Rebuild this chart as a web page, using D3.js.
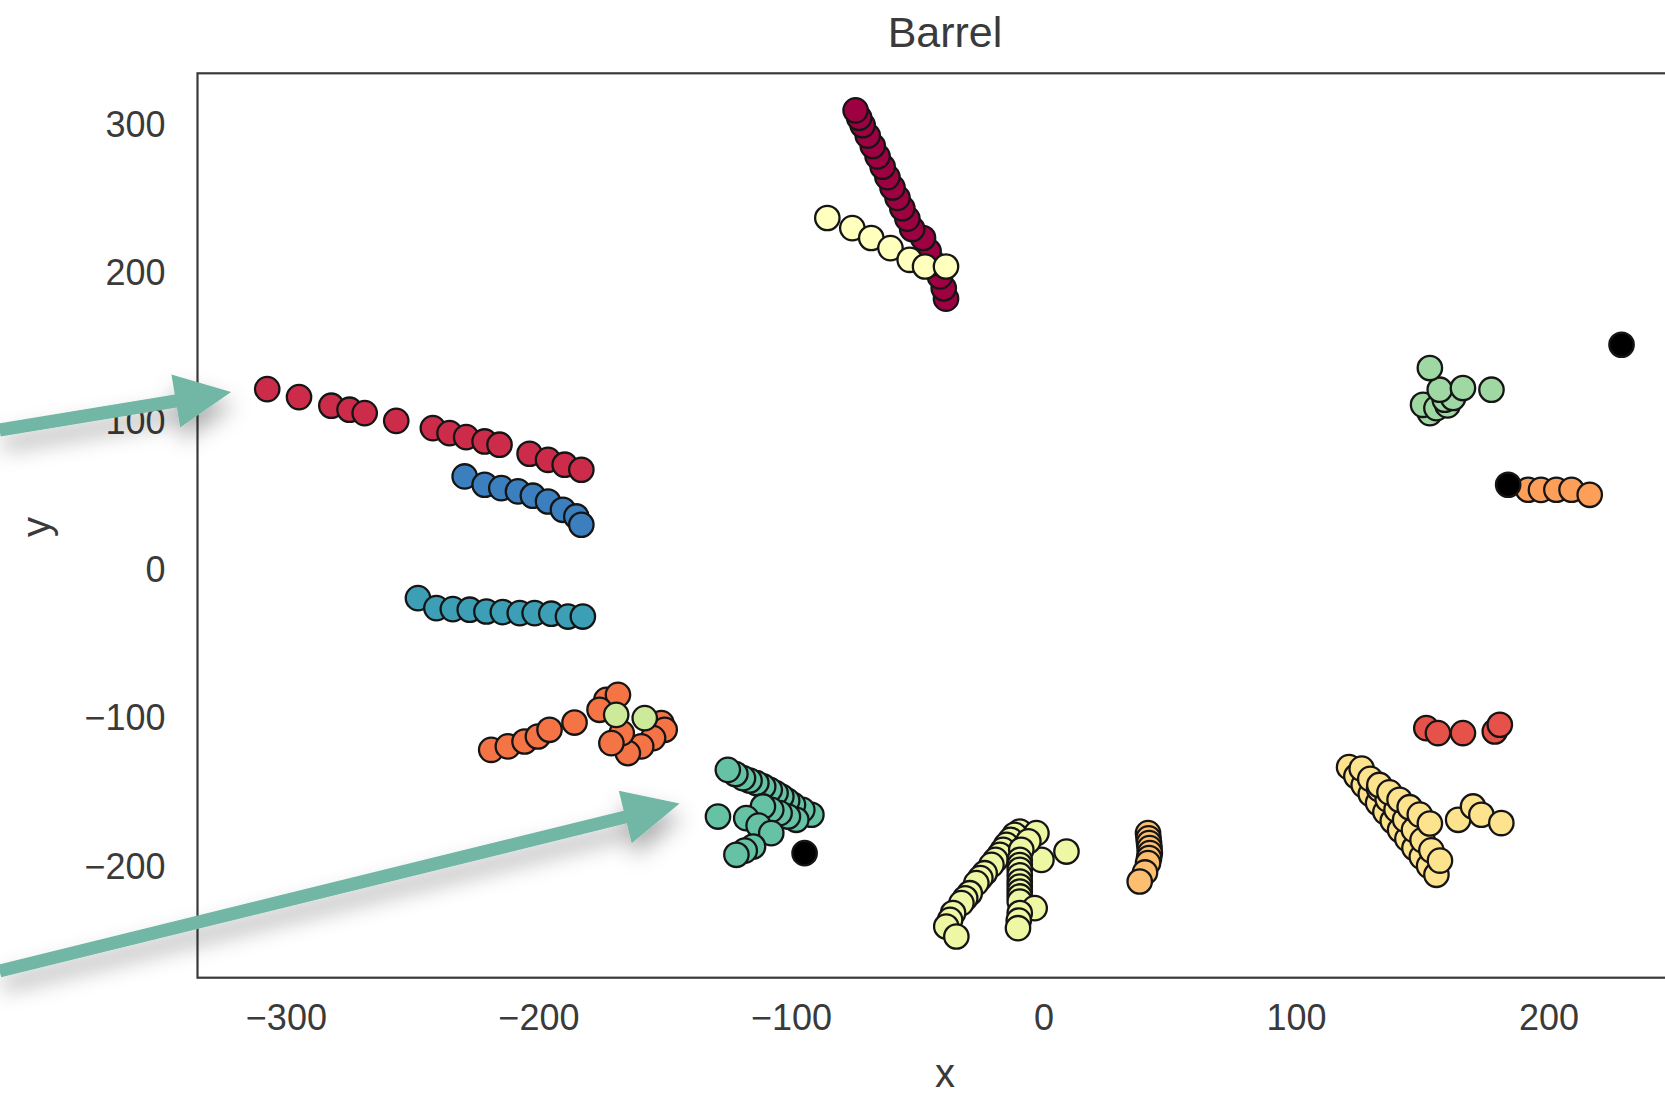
<!DOCTYPE html>
<html>
<head>
<meta charset="utf-8">
<script src="https://cdn.jsdelivr.net/npm/d3@7"></script>
<style>
  html, body { margin: 0; padding: 0; background: #fff; overflow: hidden; }
  text { font-family: "Liberation Sans", Arial, sans-serif; }
</style>
</head>
<body>
<div id="chart"></div>
<script>
// cluster points: [x, y]
let maroonPts = [[-38.6,183],[-39.5,190],[-41,198],[-43.5,207],[-45.5,215],[-47.7,223.9],[-52,230],[-53.9,237],[-55.9,244],[-57.8,251],[-59.8,258],[-61.8,265],[-63.7,272],[-65.7,279],[-67.6,286],[-69.6,293],[-71.6,300],[-73,305],[-74.4,310]];
let paleYellowPts = [[-85.6,237.4],[-75.7,230.6],[-68.2,223.9],[-60.6,217.1],[-53.0,209.2],[-46.9,204.7],[-38.6,204.7]];
let crimsonPts = [[-307.4,122.0],[-294.8,116.6],[-282.0,110.8],[-274.8,108.1],[-268.8,105.8],[-256.3,100.6],[-241.8,95.7],[-235.2,92.3],[-228.6,89.6],[-221.3,86.7],[-215.4,84.5],[-203.5,78.4],[-196.2,74.3],[-189.6,71.0],[-183.0,67.6]];
let bluePts = [[-229.2,63.1],[-221.3,57.5],[-214.7,55.2],[-208.1,53.0],[-202.2,50.1],[-196.2,46.2],[-190.3,40.6],[-185.0,36.1],[-183.0,30.5]];
let tealBluePts = [[-247.7,-19.0],[-240.4,-25.7],[-233.9,-26.4],[-227.2,-26.8],[-220.6,-28.0],[-214.1,-28.4],[-207.4,-29.1],[-201.5,-29.1],[-194.9,-29.5],[-188.3,-31.4],[-182.4,-31.4]];
let orangeRedPts = [[-218.7,-121.3],[-212.1,-119.0],[-205.5,-115.7],[-200.2,-112.3],[-195.6,-107.8],[-185.7,-102.9],[-173.1,-87.6],[-168.5,-84.2],[-175.8,-94.3],[-151.3,-103.3],[-150.0,-107.8],[-154.6,-113.4],[-159.3,-119.0],[-164.6,-123.5],[-167,-110],[-171.1,-116.8]];
let lightGreenPts = [[-169.2,-97.7],[-157.9,-99.9]];
let tealGreenPts = [[-91.9,-165.1],[-95.5,-161.8],[-99.2,-158.4],[-101.5,-155.6],[-103.8,-152.8],[-106.1,-150.5],[-108.4,-148.3],[-111,-146],[-113.7,-143.7],[-116.4,-142],[-119.0,-140.4],[-122,-137.6],[-125.0,-134.8],
  [-97.9,-168.5],[-101.2,-166.3],[-104.5,-164.0],[-107.8,-161.8],[-111.1,-159.5],[-128.9,-166.3],[-117.7,-167.4],[-112.8,-172.4],[-107.8,-177.5],[-115.0,-186.5],[-118.3,-189.3],[-121.6,-192.1]];
let yellowGreenPts = [[-9.4,-176.4],[-11.4,-178.6],[-13,-182],[-14.7,-185.4],[-16,-188.8],[-17.3,-192.1],[-19,-195.5],[-20.6,-198.9],[-23.3,-204.5],[-25,-207.8],[-26.6,-211.2],[-29.2,-218.0],[-31,-221.4],[-32.5,-224.7],[-35.8,-231.4],[-37,-236],[-38.5,-240.5],[-34.5,-247.2],
  [-2.8,-177.5],[-0.8,-195.5],[9.1,-189.9],[-6,-183],[-8.8,-188.7],[-9.4,-195.5],[-9.4,-199],[-9.4,-202.2],[-9.4,-206],[-9.4,-210.1],[-9.4,-213.5],[-9.4,-216.9],[-9.4,-220.2],[-9.4,-223.6],[-3.5,-228.1],[-9.4,-231.4],[-9.8,-236.5],[-10.1,-241.6]];
let lightOrangePts = [[41.4,-177.5],[41.6,-181],[41.8,-184.2],[42,-187.6],[42.1,-191.0],[41.8,-194.3],[41.4,-197.7],[40.2,-204],[38.1,-210.1]];
let yellowPts = [[121.0,-133.0],[123.9,-139.1],[126.8,-145.1],[129.6,-151.2],[132.5,-157.2],[135.4,-163.3],[138.3,-169.3],[141.2,-175.4],[144.1,-181.4],[146.9,-187.5],[149.8,-193.5],[152.7,-199.6],[155.6,-205.6],
  [126.0,-134.0],[129.4,-140.9],[132.9,-147.8],[136.3,-154.7],[139.8,-161.6],[143.2,-168.4],[146.7,-175.3],[150.1,-182.2],[153.6,-189.1],[157.0,-196.0],
  [133,-145],[137,-150],[141,-155],[145,-160],[149,-165],[153,-171],
  [164.2,-168.5],[170.1,-159.5],[173.4,-165.1],[181.3,-170.7]];
let redPts = [[151.6,-106.7],[156.2,-110.0],[166.1,-110.0],[178.7,-108.9],[180.7,-104.4]];
let greenPts = [[153,105.8],[150.3,111.4],[155.6,109.2],[160,111],[158.9,114.8],[162.2,116.0],[156.9,121.6],[166.1,122.7],[177.4,121.6],[153,136.2]];
let orangePts = [[191.9,54.1],[197,54],[203.1,54.1],[209.1,54.1],[216.3,50.7]];
let noisePts = [[-94.6,-191.0],[184.0,57.5],[228.9,151.9]];

let clusterColors = ['#9e0142', '#ffffbe', '#cc2c4a', '#3c7fbf', '#3d9fb6', '#f57446', '#cdea9b', '#66c2a5',
                     '#eef7a3', '#fdbf6f', '#fee38f', '#e65249', '#9fd8a3', '#fd9f59', '#000000'];
let clusters = [maroonPts, paleYellowPts, crimsonPts, bluePts, tealBluePts, orangeRedPts, lightGreenPts, tealGreenPts,
                yellowGreenPts, lightOrangePts, yellowPts, redPts, greenPts, orangePts, noisePts];

let xTicks = [-300, -200, -100, 0, 100, 200];
let yTicks = [-200, -100, 0, 100, 200, 300];

// annotation arrows laid over the picture: [tail, tip] in data units
let arrows = [[[-413.4, 94.4], [-321.7, 120.1]], [[-413.4, -270.5], [-144.1, -157.6]]];

let width = 1665, height = 1095;
let x = d3.scaleLinear().domain([-335, 257]).range([197.5, 1692.5]);
let y = d3.scaleLinear().domain([-275, 335]).range([977.7, 73.3]);

let svg = d3.select('#chart')
    .append('svg')
    .attr('width', width)
    .attr('height', height);

let defs = svg.append('defs');
let shadow = defs.append('filter')
    .attr('id', 'shadow')
    .attr('x', '-20%').attr('y', '-50%')
    .attr('width', '140%').attr('height', '250%');
shadow.append('feDropShadow')
    .attr('dx', 3).attr('dy', 13)
    .attr('stdDeviation', 11)
    .attr('flood-color', '#000')
    .attr('flood-opacity', 0.32);

// frame
svg.append('rect')
    .attr('x', x.range()[0])
    .attr('y', y.range()[1])
    .attr('width', x.range()[1] - x.range()[0])
    .attr('height', y.range()[0] - y.range()[1])
    .attr('fill', 'none')
    .attr('stroke', '#3a3a3a')
    .attr('stroke-width', 2.2);

let xAxis = svg.append('g')
    .attr('transform', 'translate(0,' + y.range()[0] + ')')
    .call(d3.axisBottom(x).tickValues(xTicks).tickSize(0).tickPadding(27));
let yAxis = svg.append('g')
    .attr('transform', 'translate(' + x.range()[0] + ',0)')
    .call(d3.axisLeft(y).tickValues(yTicks).tickSize(0).tickPadding(32));
[xAxis, yAxis].forEach(function (g) {
    g.select('.domain').remove();
    g.selectAll('text')
        .attr('font-family', '"Liberation Sans", Arial, sans-serif')
        .attr('font-size', 36)
        .attr('fill', '#3a3a3a');
});

// points
let plot = svg.append('g');
clusters.forEach(function (pts, i) {
    plot.selectAll(null)
        .data(pts)
        .enter()
        .append('circle')
        .attr('cx', d => x(d[0]))
        .attr('cy', d => y(d[1]))
        .attr('r', 12.2)
        .attr('fill', clusterColors[i])
        .attr('stroke', '#151515')
        .attr('stroke-width', 2.3);
});

// title and axis labels
let midX = (x.range()[0] + x.range()[1]) / 2;
svg.append('text')
    .attr('x', midX).attr('y', 47)
    .attr('text-anchor', 'middle')
    .attr('font-size', 43)
    .attr('fill', '#3a3a3a')
    .text('Barrel');
svg.append('text')
    .attr('x', midX).attr('y', 1087)
    .attr('text-anchor', 'middle')
    .attr('font-size', 40)
    .attr('fill', '#3a3a3a')
    .text('x');
svg.append('text')
    .attr('transform', 'translate(50,527) rotate(-90)')
    .attr('text-anchor', 'middle')
    .attr('font-size', 40)
    .attr('fill', '#3a3a3a')
    .text('y');

// arrows
let shaftW = 13, headW = 54, headL = 56;
arrows.forEach(function (a) {
    let x0 = x(a[0][0]), y0 = y(a[0][1]), x1 = x(a[1][0]), y1 = y(a[1][1]);
    let len = Math.hypot(x1 - x0, y1 - y0);
    let ux = (x1 - x0) / len, uy = (y1 - y0) / len;
    let nx = -uy, ny = ux;
    let bx = x1 - ux * headL, by = y1 - uy * headL;
    let p = [
        [x0 + nx * shaftW / 2, y0 + ny * shaftW / 2],
        [bx + nx * shaftW / 2, by + ny * shaftW / 2],
        [bx + nx * headW / 2, by + ny * headW / 2],
        [x1, y1],
        [bx - nx * headW / 2, by - ny * headW / 2],
        [bx - nx * shaftW / 2, by - ny * shaftW / 2],
        [x0 - nx * shaftW / 2, y0 - ny * shaftW / 2]
    ];
    svg.append('path')
        .attr('d', 'M' + p.map(q => q[0].toFixed(1) + ',' + q[1].toFixed(1)).join('L') + 'Z')
        .attr('fill', '#72b6a5')
        .attr('filter', 'url(#shadow)');
});
</script>
</body>
</html>
